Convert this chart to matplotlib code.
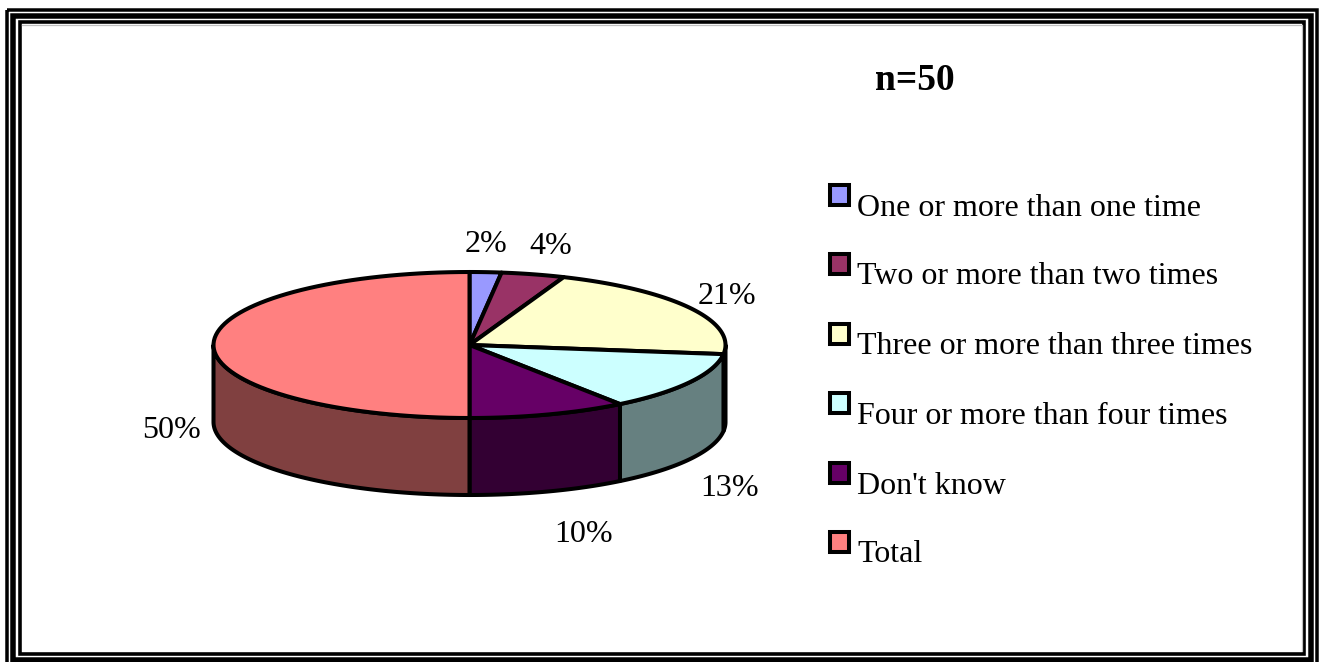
import matplotlib
matplotlib.use('Agg')
import matplotlib.pyplot as plt
from matplotlib.patches import Polygon, Rectangle
import numpy as np

labels = ['One or more than one time', 'Two or more than two times',
          'Three or more than three times', 'Four or more than four times',
          "Don't know", 'Total']
values = [2, 4, 21, 13, 10, 50]
pct_labels = ['2%', '4%', '21%', '13%', '10%', '50%']
top_colors = ['#9999FF', '#993366', '#FFFFCC', '#CCFFFF', '#660066', '#FF8080']
side_colors = ['#4D4D80', '#4D1A33', '#808066', '#668080', '#330033', '#804040']
pct_pos = [(486, 245), (551, 247), (727, 296), (730, 488), (584, 535), (172, 431)]
legend_y = [205, 274, 344, 413, 483, 552]

cx, cy = 469.5, 345
rx, ry = 256, 73
depth = 77
black = '#000000'

plt.rcParams['font.family'] = ['Liberation Serif', 'DejaVu Serif']

fig = plt.figure(figsize=(13.22, 6.62), dpi=100)
ax = fig.add_axes([0, 0, 1, 1])
ax.set_xlim(0, 1322)
ax.set_ylim(662, 0)
ax.axis('off')


def rim(a0, a1, n=80):
    # angles in degrees clockwise from the top of the pie
    t = np.radians(np.linspace(a0, a1, n))
    return np.column_stack([cx + rx * np.sin(t), cy - ry * np.cos(t)])


# frame: three nested black bands with a thin grey edge
for x0, y0, x1, y1, lw in [(6.5, 9.75, 1316.5, 670, 3.5), (13.25, 15.75, 1310.75, 659.5, 5.5),
                           (19.75, 22.25, 1304.25, 653.5, 3.6)]:
    ax.add_patch(Rectangle((x0, y0), x1 - x0, y1 - y0, fill=False, ec=black,
                           lw=lw * 0.72, joinstyle='miter'))
ax.plot([21.5, 1301.5, 1301.5], [24.5, 24.5, 651], color='#c0c0c0', lw=0.9)

# side wall, only the part of each slice past the left/right edge of the pie shows
start = 0
for v, c in zip(values, side_colors):
    end = start + v * 3.6
    a0, a1 = max(start, 90), min(end, 270)
    if a1 > a0:
        edge = rim(a0, a1)
        wall = np.vstack([edge, (edge + [0, depth])[::-1]])
        ax.add_patch(Polygon(wall, closed=True, fc=c, ec=black, lw=2.9, joinstyle='round'))
    start = end

# top face
start = 0
for v, c in zip(values, top_colors):
    end = start + v * 3.6
    ax.add_patch(Polygon(np.vstack([[cx, cy], rim(start, end)]), closed=True, fc=c,
                         ec=black, lw=2.9, joinstyle='round'))
    start = end

for txt, (x, y) in zip(pct_labels, pct_pos):
    ax.text(x, y, txt, fontsize=23, ha='center', va='center', color=black)

# legend
for name, c, y in zip(labels, top_colors, legend_y):
    ax.add_patch(Rectangle((829.75, y - 19.75), 19.5, 19.5, fc=c, ec=black, lw=2.9, joinstyle='miter'))
    ax.text(857, y + 3, name, fontsize=23, ha='left', va='center', color=black)

ax.text(914.5, 81, 'n=50', fontsize=27, fontweight='bold', ha='center', va='center', color=black)

fig.savefig('out.png', dpi=100)
